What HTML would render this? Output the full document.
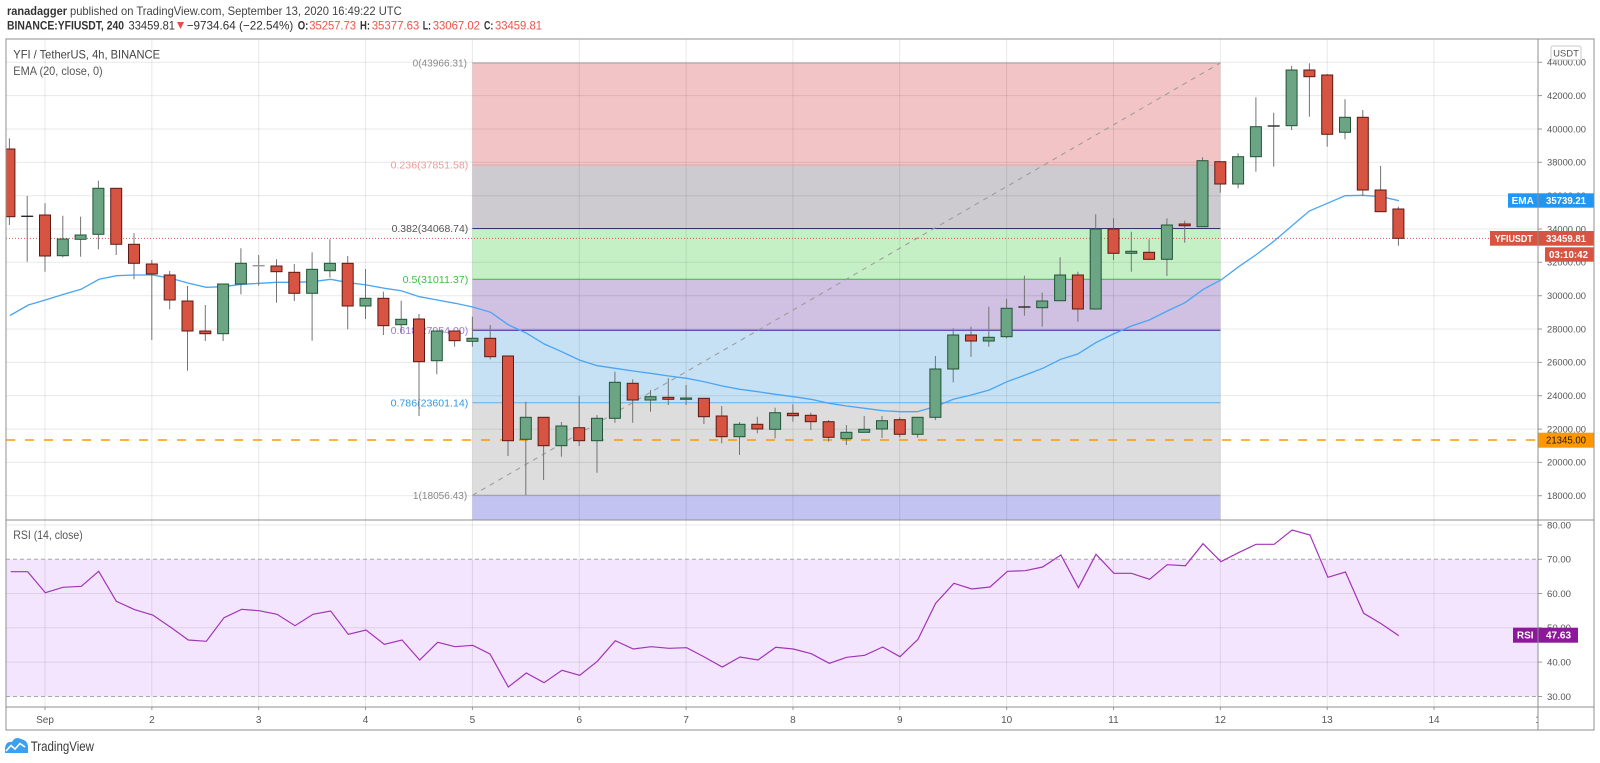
<!DOCTYPE html>
<html><head><meta charset="utf-8"><style>
html,body{margin:0;padding:0;background:#fff;}
svg{display:block;font-family:"Liberation Sans",sans-serif;}
</style></head><body>
<svg width="1600" height="763" viewBox="0 0 1600 763" xmlns="http://www.w3.org/2000/svg">
<defs>
<clipPath id="cm"><rect x="6" y="39" width="1532" height="481"/></clipPath>
<clipPath id="cr"><rect x="6" y="520" width="1532" height="187"/></clipPath>
<clipPath id="ct"><rect x="6" y="707" width="1532" height="23"/></clipPath>
</defs>
<rect width="1600" height="763" fill="#fff"/>

<!-- header -->
<g font-size="12" fill="#333">
<text x="7" y="15" font-weight="bold" textLength="60" lengthAdjust="spacingAndGlyphs">ranadagger</text>
<text x="70" y="15" fill="#444" textLength="331.7" lengthAdjust="spacingAndGlyphs">published on TradingView.com, September 13, 2020 16:49:22 UTC</text>
<text x="7" y="29.5" font-weight="bold" textLength="117" lengthAdjust="spacingAndGlyphs">BINANCE:YFIUSDT, 240</text>
<text x="128.5" y="29.5" textLength="46.5" lengthAdjust="spacingAndGlyphs">33459.81</text>
<polygon points="177,22 184,22 180.5,29" fill="#ef4b43"/>
<text x="186.7" y="29.5" textLength="106.6" lengthAdjust="spacingAndGlyphs">−9734.64 (−22.54%)</text>
<text x="297.7" y="29.5" font-weight="bold" textLength="10.6" lengthAdjust="spacingAndGlyphs">O:</text>
<text x="309.3" y="29.5" fill="#f0524a" textLength="46.7" lengthAdjust="spacingAndGlyphs">35257.73</text>
<text x="360" y="29.5" font-weight="bold" textLength="10" lengthAdjust="spacingAndGlyphs">H:</text>
<text x="371.7" y="29.5" fill="#f0524a" textLength="47.6" lengthAdjust="spacingAndGlyphs">35377.63</text>
<text x="422.7" y="29.5" font-weight="bold" textLength="8.3" lengthAdjust="spacingAndGlyphs">L:</text>
<text x="432.7" y="29.5" fill="#f0524a" textLength="47.3" lengthAdjust="spacingAndGlyphs">33067.02</text>
<text x="484" y="29.5" font-weight="bold" textLength="9.3" lengthAdjust="spacingAndGlyphs">C:</text>
<text x="495" y="29.5" fill="#f0524a" textLength="47" lengthAdjust="spacingAndGlyphs">33459.81</text>
</g>

<!-- MAIN PANE -->
<g clip-path="url(#cm)">
<rect x="472.4" y="63" width="748" height="102" fill="#f3c4c5"/>
<rect x="472.4" y="165" width="748" height="63.5" fill="#cdcbd0"/>
<rect x="472.4" y="228.5" width="748" height="50.7" fill="#c5f0c5"/>
<rect x="472.4" y="279.2" width="748" height="51.1" fill="#d0c0e1"/>
<rect x="472.4" y="330.3" width="748" height="72.4" fill="#c5e1f3"/>
<rect x="472.4" y="402.7" width="748" height="92.6" fill="#dddddd"/>
<rect x="472.4" y="495.3" width="748" height="30" fill="#c3c3f2"/>
<g stroke="#000" stroke-opacity="0.09" stroke-width="1">
<line x1="6" y1="62.3" x2="1538" y2="62.3"/><line x1="6" y1="95.6" x2="1538" y2="95.6"/>
<line x1="6" y1="129" x2="1538" y2="129"/><line x1="6" y1="162.3" x2="1538" y2="162.3"/>
<line x1="6" y1="195.7" x2="1538" y2="195.7"/><line x1="6" y1="229" x2="1538" y2="229"/>
<line x1="6" y1="262.3" x2="1538" y2="262.3"/><line x1="6" y1="295.7" x2="1538" y2="295.7"/>
<line x1="6" y1="329" x2="1538" y2="329"/><line x1="6" y1="362.4" x2="1538" y2="362.4"/>
<line x1="6" y1="395.7" x2="1538" y2="395.7"/><line x1="6" y1="429.1" x2="1538" y2="429.1"/>
<line x1="6" y1="462.4" x2="1538" y2="462.4"/><line x1="6" y1="495.7" x2="1538" y2="495.7"/>
<line x1="45" y1="39" x2="45" y2="520"/><line x1="151.85" y1="39" x2="151.85" y2="520"/>
<line x1="258.7" y1="39" x2="258.7" y2="520"/><line x1="365.55" y1="39" x2="365.55" y2="520"/>
<line x1="472.4" y1="39" x2="472.4" y2="520"/><line x1="579.25" y1="39" x2="579.25" y2="520"/>
<line x1="686.1" y1="39" x2="686.1" y2="520"/><line x1="792.95" y1="39" x2="792.95" y2="520"/>
<line x1="899.8" y1="39" x2="899.8" y2="520"/><line x1="1006.65" y1="39" x2="1006.65" y2="520"/>
<line x1="1113.5" y1="39" x2="1113.5" y2="520"/><line x1="1220.35" y1="39" x2="1220.35" y2="520"/>
<line x1="1327.2" y1="39" x2="1327.2" y2="520"/><line x1="1434.05" y1="39" x2="1434.05" y2="520"/>
</g>
<line x1="472.4" y1="63" x2="1220.4" y2="63" stroke="#a0a0a0"/>
<line x1="472.4" y1="165" x2="1220.4" y2="165" stroke="#e7a3a6"/>
<line x1="472.4" y1="228.5" x2="1220.4" y2="228.5" stroke="#3c2f6e"/>
<line x1="472.4" y1="279.2" x2="1220.4" y2="279.2" stroke="#3cb83c"/>
<line x1="472.4" y1="330.3" x2="1220.4" y2="330.3" stroke="#4b1a9b"/>
<line x1="472.4" y1="402.7" x2="1220.4" y2="402.7" stroke="#5fb0f0"/>
<line x1="472.4" y1="495.3" x2="1220.4" y2="495.3" stroke="#a0a0a0"/>
<g font-size="10.5" text-anchor="end">
<text x="467" y="66.7" fill="#8a8a8a" textLength="54.4" lengthAdjust="spacingAndGlyphs">0(43966.31)</text>
<text x="468.3" y="168.7" fill="#f09a9a" textLength="77.7" lengthAdjust="spacingAndGlyphs">0.236(37851.58)</text>
<text x="468.3" y="232.2" fill="#555" textLength="76.7" lengthAdjust="spacingAndGlyphs">0.382(34068.74)</text>
<text x="468.3" y="282.9" fill="#3fc03f" textLength="65.7" lengthAdjust="spacingAndGlyphs">0.5(31011.37)</text>
<text x="468.3" y="334" fill="#9a7fd0" textLength="77.7" lengthAdjust="spacingAndGlyphs">0.618(27954.00)</text>
<text x="468.3" y="406.4" fill="#3399e0" textLength="77.7" lengthAdjust="spacingAndGlyphs">0.786(23601.14)</text>
<text x="467.3" y="499" fill="#888" textLength="54.4" lengthAdjust="spacingAndGlyphs">1(18056.43)</text>
</g>
<line x1="472.4" y1="495.3" x2="1220.4" y2="63" stroke="#999" stroke-dasharray="5 5"/>
<line x1="6" y1="440" x2="1538" y2="440" stroke="#ff9800" stroke-width="1.6" stroke-dasharray="9 10"/>
<line x1="6" y1="238.4" x2="1538" y2="238.4" stroke="#e0574a" stroke-dasharray="1 2"/>
<polyline fill="none" stroke="#4aa5f5" stroke-width="1.3" points="10,315.5 28.3,305 45.3,300 63,294.5 81,289.3 99,279.3 116.7,275.7 134.7,275 152.7,275 170.7,278.3 188.7,283.3 206.3,287.3 223.3,286.7 241.3,284.3 259.3,283.3 277,282.3 294.7,282.3 312.7,281.7 330.7,279.3 348.7,282.7 366.7,285 384.7,288.3 401.3,290.7 419.3,296.7 437.3,300 455.3,303.3 472.7,307 490.7,312.3 508.7,325 526.7,333.3 544.3,344 561.7,351.7 579.3,360 597.3,365.7 615,368.3 633.3,371 650.7,373.3 668.7,376 686.7,378.3 704.3,381.7 722.3,386 740,389.3 757.7,391.7 775.3,394.3 793.3,396.7 811,399.3 829,403.3 846.7,406 864.7,408.3 882.7,410.7 900,411.7 917.3,411.7 935.5,406.5 953.3,399.3 971.3,395 989.3,390 1007,381.7 1025.3,375 1042.7,368.3 1060.7,359.3 1077.7,354 1095.7,342.7 1113.3,334 1131.3,326 1149.3,320 1167.3,311 1185,302.7 1203.3,289.3 1221,280 1238.7,266.7 1255.7,255 1273.3,241.7 1291.7,226 1309.3,211 1327.3,203.3 1345.3,195.7 1363.3,195.3 1381,196.7 1399,200.7"/>
<g stroke="#737375" stroke-width="1">
<line x1="9.4" y1="138.3" x2="9.4" y2="225"/>
<line x1="27.2" y1="196" x2="27.2" y2="261.7"/>
<line x1="45" y1="203.3" x2="45" y2="271.7"/>
<line x1="62.8" y1="215.7" x2="62.8" y2="257.3"/>
<line x1="80.6" y1="216.7" x2="80.6" y2="256.7"/>
<line x1="98.4" y1="180.7" x2="98.4" y2="249.3"/>
<line x1="116.2" y1="188" x2="116.2" y2="255"/>
<line x1="134" y1="233.3" x2="134" y2="279.3"/>
<line x1="151.8" y1="260" x2="151.8" y2="340"/>
<line x1="169.7" y1="271" x2="169.7" y2="309.3"/>
<line x1="187.5" y1="286" x2="187.5" y2="370.7"/>
<line x1="205.3" y1="305" x2="205.3" y2="341"/>
<line x1="223.1" y1="284" x2="223.1" y2="341"/>
<line x1="240.9" y1="248.3" x2="240.9" y2="294.3"/>
<line x1="258.7" y1="255" x2="258.7" y2="285.7"/>
<line x1="276.5" y1="259.3" x2="276.5" y2="302.7"/>
<line x1="294.3" y1="264" x2="294.3" y2="301"/>
<line x1="312.1" y1="252.3" x2="312.1" y2="340.7"/>
<line x1="329.9" y1="239.3" x2="329.9" y2="277.7"/>
<line x1="347.7" y1="256" x2="347.7" y2="329.3"/>
<line x1="365.5" y1="269" x2="365.5" y2="319"/>
<line x1="383.4" y1="291.7" x2="383.4" y2="335"/>
<line x1="401.2" y1="300.7" x2="401.2" y2="333.3"/>
<line x1="419" y1="314" x2="419" y2="416"/>
<line x1="436.8" y1="331" x2="436.8" y2="374.3"/>
<line x1="454.6" y1="331" x2="454.6" y2="346.7"/>
<line x1="472.4" y1="316.7" x2="472.4" y2="346.7"/>
<line x1="490.2" y1="325" x2="490.2" y2="359.3"/>
<line x1="508" y1="356" x2="508" y2="456"/>
<line x1="525.8" y1="401.7" x2="525.8" y2="495"/>
<line x1="543.6" y1="417" x2="543.6" y2="480"/>
<line x1="561.4" y1="422" x2="561.4" y2="456.7"/>
<line x1="579.2" y1="396" x2="579.2" y2="446"/>
<line x1="597" y1="415" x2="597" y2="472.7"/>
<line x1="614.9" y1="371.7" x2="614.9" y2="422.7"/>
<line x1="632.7" y1="379.3" x2="632.7" y2="422.7"/>
<line x1="650.5" y1="390" x2="650.5" y2="411.7"/>
<line x1="668.3" y1="378.3" x2="668.3" y2="405"/>
<line x1="686.1" y1="385" x2="686.1" y2="405"/>
<line x1="703.9" y1="398" x2="703.9" y2="424"/>
<line x1="721.7" y1="406" x2="721.7" y2="443.3"/>
<line x1="739.5" y1="422" x2="739.5" y2="455"/>
<line x1="757.3" y1="416.7" x2="757.3" y2="433.3"/>
<line x1="775.1" y1="407.7" x2="775.1" y2="438.3"/>
<line x1="792.9" y1="404.3" x2="792.9" y2="421.7"/>
<line x1="810.8" y1="412.7" x2="810.8" y2="430"/>
<line x1="828.6" y1="420" x2="828.6" y2="441.7"/>
<line x1="846.4" y1="425" x2="846.4" y2="445"/>
<line x1="864.2" y1="416" x2="864.2" y2="432.3"/>
<line x1="882" y1="416" x2="882" y2="438"/>
<line x1="899.8" y1="417.3" x2="899.8" y2="437.3"/>
<line x1="917.6" y1="417.3" x2="917.6" y2="437.7"/>
<line x1="935.4" y1="356" x2="935.4" y2="420"/>
<line x1="953.2" y1="328.3" x2="953.2" y2="382.3"/>
<line x1="971" y1="326.7" x2="971" y2="356.7"/>
<line x1="988.8" y1="306.7" x2="988.8" y2="346.7"/>
<line x1="1006.6" y1="299" x2="1006.6" y2="338.3"/>
<line x1="1024.4" y1="275.7" x2="1024.4" y2="315.7"/>
<line x1="1042.2" y1="292.7" x2="1042.2" y2="326.7"/>
<line x1="1060.1" y1="257.3" x2="1060.1" y2="300.7"/>
<line x1="1077.9" y1="271.7" x2="1077.9" y2="321.7"/>
<line x1="1095.7" y1="214.3" x2="1095.7" y2="309"/>
<line x1="1113.5" y1="218.3" x2="1113.5" y2="260"/>
<line x1="1131.3" y1="231.7" x2="1131.3" y2="271.7"/>
<line x1="1149.1" y1="239.3" x2="1149.1" y2="260"/>
<line x1="1166.9" y1="218.3" x2="1166.9" y2="276"/>
<line x1="1184.7" y1="220.7" x2="1184.7" y2="242.7"/>
<line x1="1202.5" y1="157.3" x2="1202.5" y2="226.7"/>
<line x1="1220.3" y1="161.7" x2="1220.3" y2="192.7"/>
<line x1="1238.1" y1="153.3" x2="1238.1" y2="188.3"/>
<line x1="1255.9" y1="97.3" x2="1255.9" y2="171.7"/>
<line x1="1273.7" y1="112.7" x2="1273.7" y2="166.7"/>
<line x1="1291.6" y1="66" x2="1291.6" y2="130"/>
<line x1="1309.4" y1="63.3" x2="1309.4" y2="116.7"/>
<line x1="1327.2" y1="74" x2="1327.2" y2="146.7"/>
<line x1="1345" y1="99.3" x2="1345" y2="139.3"/>
<line x1="1362.8" y1="110" x2="1362.8" y2="196"/>
<line x1="1380.6" y1="166" x2="1380.6" y2="211.7"/>
<line x1="1398.4" y1="206.7" x2="1398.4" y2="245.7"/>
</g>
<g fill="#d75442" stroke="#5b1a13" stroke-width="1">
<rect x="3.9" y="149" width="11" height="67.7"/>
<rect x="39.5" y="215" width="11" height="41"/>
<rect x="110.7" y="188.3" width="11" height="56"/>
<rect x="128.5" y="244.3" width="11" height="19"/>
<rect x="146.3" y="264" width="11" height="10"/>
<rect x="164.2" y="275" width="11" height="25"/>
<rect x="182" y="301" width="11" height="30"/>
<rect x="199.8" y="331" width="11" height="2.7"/>
<rect x="271" y="266" width="11" height="5.7"/>
<rect x="288.8" y="272.3" width="11" height="21"/>
<rect x="342.2" y="263.3" width="11" height="42.7"/>
<rect x="377.9" y="298.3" width="11" height="27.4"/>
<rect x="413.5" y="319" width="11" height="42.7"/>
<rect x="449.1" y="331" width="11" height="9.7"/>
<rect x="484.7" y="338.3" width="11" height="18.4"/>
<rect x="502.5" y="356" width="11" height="84.7"/>
<rect x="538.1" y="417.3" width="11" height="28.4"/>
<rect x="573.7" y="427.7" width="11" height="13"/>
<rect x="627.2" y="383.3" width="11" height="16.7"/>
<rect x="662.8" y="397.3" width="11" height="2"/>
<rect x="698.4" y="398.3" width="11" height="18.4"/>
<rect x="716.2" y="416" width="11" height="20.7"/>
<rect x="751.8" y="424.3" width="11" height="4.7"/>
<rect x="787.4" y="413.3" width="11" height="2.4"/>
<rect x="805.3" y="415.3" width="11" height="6.4"/>
<rect x="823.1" y="421.7" width="11" height="15.6"/>
<rect x="894.3" y="419.7" width="11" height="14.6"/>
<rect x="965.5" y="335" width="11" height="6"/>
<rect x="1072.4" y="275" width="11" height="34"/>
<rect x="1108" y="229" width="11" height="24.3"/>
<rect x="1143.6" y="252.3" width="11" height="7"/>
<rect x="1179.2" y="224" width="11" height="1.7"/>
<rect x="1214.8" y="161.7" width="11" height="22.3"/>
<rect x="1303.9" y="70" width="11" height="6.7"/>
<rect x="1321.7" y="75" width="11" height="59.3"/>
<rect x="1357.3" y="117.3" width="11" height="72.7"/>
<rect x="1375.1" y="190" width="11" height="21.7"/>
<rect x="1392.9" y="209" width="11" height="29.3"/>
</g>
<g fill="#6ba583" stroke="#225437" stroke-width="1">
<rect x="57.3" y="239" width="11" height="16.7"/>
<rect x="75.1" y="235" width="11" height="4.3"/>
<rect x="92.9" y="188.3" width="11" height="46"/>
<rect x="217.6" y="284" width="11" height="49.7"/>
<rect x="235.4" y="263.3" width="11" height="20.7"/>
<rect x="306.6" y="269.3" width="11" height="24"/>
<rect x="324.4" y="263.3" width="11" height="7.4"/>
<rect x="360" y="298.3" width="11" height="7.7"/>
<rect x="395.7" y="319.3" width="11" height="5.4"/>
<rect x="431.3" y="331" width="11" height="29.7"/>
<rect x="466.9" y="338.3" width="11" height="3"/>
<rect x="520.3" y="417.3" width="11" height="22"/>
<rect x="555.9" y="426" width="11" height="19.7"/>
<rect x="591.5" y="418.3" width="11" height="22.4"/>
<rect x="609.4" y="382.3" width="11" height="36"/>
<rect x="645" y="396.7" width="11" height="3.3"/>
<rect x="680.6" y="398" width="11" height="1.3"/>
<rect x="734" y="424.3" width="11" height="12.4"/>
<rect x="769.6" y="412.7" width="11" height="16.6"/>
<rect x="840.9" y="432.3" width="11" height="6.4"/>
<rect x="858.7" y="429.3" width="11" height="3"/>
<rect x="876.5" y="420.7" width="11" height="8.3"/>
<rect x="912.1" y="417.3" width="11" height="17"/>
<rect x="929.9" y="369" width="11" height="48.3"/>
<rect x="947.7" y="335" width="11" height="34"/>
<rect x="983.3" y="337.3" width="11" height="3.7"/>
<rect x="1001.1" y="308.3" width="11" height="28.4"/>
<rect x="1036.7" y="301" width="11" height="6.7"/>
<rect x="1054.6" y="275" width="11" height="25.7"/>
<rect x="1090.2" y="229" width="11" height="80"/>
<rect x="1125.8" y="251.3" width="11" height="2"/>
<rect x="1161.4" y="225" width="11" height="34.3"/>
<rect x="1197" y="160.7" width="11" height="66"/>
<rect x="1232.6" y="156.7" width="11" height="27.3"/>
<rect x="1250.4" y="126.7" width="11" height="30"/>
<rect x="1286.1" y="70" width="11" height="55.7"/>
<rect x="1339.5" y="117.3" width="11" height="15"/>
</g>
<g stroke="#2a2a2a" stroke-width="1.4">
<line x1="21.2" y1="216.3" x2="33.2" y2="216.3"/>
<line x1="252.7" y1="265.7" x2="264.7" y2="265.7" stroke="#999"/>
<line x1="1018.4" y1="307" x2="1030.4" y2="307"/>
<line x1="1267.7" y1="126" x2="1279.7" y2="126"/>
</g>
<text x="13.3" y="58.5" font-size="12" fill="#444" textLength="146.7" lengthAdjust="spacingAndGlyphs">YFI / TetherUS, 4h, BINANCE</text>
<text x="13.3" y="75" font-size="12" fill="#555" textLength="89.4" lengthAdjust="spacingAndGlyphs">EMA (20, close, 0)</text>
</g>

<!-- RSI PANE -->
<g clip-path="url(#cr)">
<rect x="6" y="559.3" width="1532" height="137.2" fill="#f3e5fd"/>
<g stroke="#000" stroke-opacity="0.09">
<line x1="6" y1="525" x2="1538" y2="525"/>
<line x1="6" y1="593.5" x2="1538" y2="593.5"/>
<line x1="6" y1="627.8" x2="1538" y2="627.8"/>
<line x1="6" y1="662.1" x2="1538" y2="662.1"/>
<line x1="45" y1="520" x2="45" y2="707"/><line x1="151.85" y1="520" x2="151.85" y2="707"/>
<line x1="258.7" y1="520" x2="258.7" y2="707"/><line x1="365.55" y1="520" x2="365.55" y2="707"/>
<line x1="472.4" y1="520" x2="472.4" y2="707"/><line x1="579.25" y1="520" x2="579.25" y2="707"/>
<line x1="686.1" y1="520" x2="686.1" y2="707"/><line x1="792.95" y1="520" x2="792.95" y2="707"/>
<line x1="899.8" y1="520" x2="899.8" y2="707"/><line x1="1006.65" y1="520" x2="1006.65" y2="707"/>
<line x1="1113.5" y1="520" x2="1113.5" y2="707"/><line x1="1220.35" y1="520" x2="1220.35" y2="707"/>
<line x1="1327.2" y1="520" x2="1327.2" y2="707"/><line x1="1434.05" y1="520" x2="1434.05" y2="707"/>
</g>
<line x1="6" y1="559.3" x2="1538" y2="559.3" stroke="#a8a8a8" stroke-dasharray="4 3"/>
<line x1="6" y1="696.5" x2="1538" y2="696.5" stroke="#a8a8a8" stroke-dasharray="4 3"/>
<polyline fill="none" stroke="#a234b8" stroke-width="1.2" points="10.7,571.7 27.7,571.7 45.3,592.7 63,587.3 81.3,586.3 98.7,571.3 116.3,601.3 134.7,609.7 152.7,615 170.3,627 188.3,640 206.3,641.3 224,617.7 241.7,609.3 259,610.7 277,614.3 295,625.7 313,614.3 330.7,611 348.3,634.3 366,630 384.3,644.3 402,640 419.7,660 437.7,642.3 455,646.7 472.7,645.3 490,654 508.3,687 526.3,673 544,682.7 562,670.3 579.7,675.3 597.3,661.3 615.3,640.7 633.3,649 651.3,646.7 669,648.3 686.7,647.7 704.3,657 722.3,667 740,657 758,660 775.7,647.3 793.3,649 811.3,653.7 829.3,663.3 846.7,657.3 864.7,655.3 882.7,647 900,656.7 918,639.3 935.6,603.3 953.9,583.3 971.8,589 990,587 1007.5,571.3 1025.1,570.7 1042.6,567 1060.9,555 1078.4,587.7 1096,554.3 1113.9,573.3 1131.4,573.3 1149.6,579.3 1167.2,564.7 1185.4,565.7 1203,543.7 1220.9,561.7 1238.4,552.7 1256,544.3 1274.2,544.3 1292.1,530 1310,535 1327.9,577.3 1345.4,572 1363.7,613.3 1381.2,623.7 1398.8,635.7"/>
<text x="13.3" y="539" font-size="12" fill="#555" textLength="69.4" lengthAdjust="spacingAndGlyphs">RSI (14, close)</text>
</g>

<!-- time axis -->
<g stroke="#999">
<line x1="45" y1="707" x2="45" y2="710"/><line x1="151.85" y1="707" x2="151.85" y2="710"/>
<line x1="258.7" y1="707" x2="258.7" y2="710"/><line x1="365.55" y1="707" x2="365.55" y2="710"/>
<line x1="472.4" y1="707" x2="472.4" y2="710"/><line x1="579.25" y1="707" x2="579.25" y2="710"/>
<line x1="686.1" y1="707" x2="686.1" y2="710"/><line x1="792.95" y1="707" x2="792.95" y2="710"/>
<line x1="899.8" y1="707" x2="899.8" y2="710"/><line x1="1006.65" y1="707" x2="1006.65" y2="710"/>
<line x1="1113.5" y1="707" x2="1113.5" y2="710"/><line x1="1220.35" y1="707" x2="1220.35" y2="710"/>
<line x1="1327.2" y1="707" x2="1327.2" y2="710"/><line x1="1434.05" y1="707" x2="1434.05" y2="710"/>
</g>
<g clip-path="url(#ct)" font-size="10" fill="#555" text-anchor="middle">
<text x="45" y="723">Sep</text><text x="151.85" y="723">2</text><text x="258.7" y="723">3</text>
<text x="365.55" y="723">4</text><text x="472.4" y="723">5</text><text x="579.25" y="723">6</text>
<text x="686.1" y="723">7</text><text x="792.95" y="723">8</text><text x="899.8" y="723">9</text>
<text x="1006.65" y="723">10</text><text x="1113.5" y="723">11</text><text x="1220.35" y="723">12</text>
<text x="1327.2" y="723">13</text><text x="1434.05" y="723">14</text><text x="1540.9" y="723">15</text>
</g>

<!-- price axis ticks -->
<g stroke="#999">
<line x1="1538" y1="62.3" x2="1542" y2="62.3"/><line x1="1538" y1="95.6" x2="1542" y2="95.6"/>
<line x1="1538" y1="129" x2="1542" y2="129"/><line x1="1538" y1="162.3" x2="1542" y2="162.3"/>
<line x1="1538" y1="195.7" x2="1542" y2="195.7"/><line x1="1538" y1="229" x2="1542" y2="229"/>
<line x1="1538" y1="262.3" x2="1542" y2="262.3"/><line x1="1538" y1="295.7" x2="1542" y2="295.7"/>
<line x1="1538" y1="329" x2="1542" y2="329"/><line x1="1538" y1="362.4" x2="1542" y2="362.4"/>
<line x1="1538" y1="395.7" x2="1542" y2="395.7"/><line x1="1538" y1="429.1" x2="1542" y2="429.1"/>
<line x1="1538" y1="462.4" x2="1542" y2="462.4"/><line x1="1538" y1="495.7" x2="1542" y2="495.7"/>
<line x1="1538" y1="525" x2="1542" y2="525"/><line x1="1538" y1="559.3" x2="1542" y2="559.3"/>
<line x1="1538" y1="593.5" x2="1542" y2="593.5"/><line x1="1538" y1="627.8" x2="1542" y2="627.8"/>
<line x1="1538" y1="662.1" x2="1542" y2="662.1"/><line x1="1538" y1="696.5" x2="1542" y2="696.5"/>
</g>
<g font-size="9.5" fill="#555">
<text x="1547" y="65.6" textLength="39" lengthAdjust="spacingAndGlyphs">44000.00</text>
<text x="1547" y="98.9" textLength="39" lengthAdjust="spacingAndGlyphs">42000.00</text>
<text x="1547" y="132.3" textLength="39" lengthAdjust="spacingAndGlyphs">40000.00</text>
<text x="1547" y="165.6" textLength="39" lengthAdjust="spacingAndGlyphs">38000.00</text>
<text x="1547" y="199" textLength="39" lengthAdjust="spacingAndGlyphs">36000.00</text>
<text x="1547" y="232.3" textLength="39" lengthAdjust="spacingAndGlyphs">34000.00</text>
<text x="1547" y="265.6" textLength="39" lengthAdjust="spacingAndGlyphs">32000.00</text>
<text x="1547" y="299" textLength="39" lengthAdjust="spacingAndGlyphs">30000.00</text>
<text x="1547" y="332.3" textLength="39" lengthAdjust="spacingAndGlyphs">28000.00</text>
<text x="1547" y="365.7" textLength="39" lengthAdjust="spacingAndGlyphs">26000.00</text>
<text x="1547" y="399" textLength="39" lengthAdjust="spacingAndGlyphs">24000.00</text>
<text x="1547" y="432.4" textLength="39" lengthAdjust="spacingAndGlyphs">22000.00</text>
<text x="1547" y="465.7" textLength="39" lengthAdjust="spacingAndGlyphs">20000.00</text>
<text x="1547" y="499" textLength="39" lengthAdjust="spacingAndGlyphs">18000.00</text>
<text x="1547" y="528.3" textLength="24" lengthAdjust="spacingAndGlyphs">80.00</text>
<text x="1547" y="562.6" textLength="24" lengthAdjust="spacingAndGlyphs">70.00</text>
<text x="1547" y="596.8" textLength="24" lengthAdjust="spacingAndGlyphs">60.00</text>
<text x="1547" y="631.1" textLength="24" lengthAdjust="spacingAndGlyphs">50.00</text>
<text x="1547" y="665.4" textLength="24" lengthAdjust="spacingAndGlyphs">40.00</text>
<text x="1547" y="699.8" textLength="24" lengthAdjust="spacingAndGlyphs">30.00</text>
</g>

<rect x="1551" y="46" width="30" height="14" rx="2" fill="#fff" stroke="#c8c8c8"/>
<text x="1566" y="56.5" font-size="9.5" fill="#555" text-anchor="middle">USDT</text>

<g font-size="10" font-weight="bold" fill="#fff">
<rect x="1508" y="193.3" width="29.5" height="14.4" fill="#2196f3"/>
<rect x="1538.5" y="193.3" width="55.5" height="14.4" fill="#2196f3"/>
<text x="1522.7" y="204" text-anchor="middle">EMA</text>
<text x="1546" y="204" textLength="40" lengthAdjust="spacingAndGlyphs">35739.21</text>

<rect x="1490" y="231" width="47.5" height="14.7" fill="#d75442"/>
<rect x="1538.5" y="231" width="55.5" height="14.7" fill="#d75442"/>
<text x="1513.7" y="241.8" text-anchor="middle" textLength="38" lengthAdjust="spacingAndGlyphs">YFIUSDT</text>
<text x="1546" y="241.8" textLength="40" lengthAdjust="spacingAndGlyphs">33459.81</text>
<rect x="1545" y="247.3" width="49" height="14.4" fill="#d75442"/>
<text x="1549" y="258" textLength="39" lengthAdjust="spacingAndGlyphs">03:10:42</text>

<rect x="1538.5" y="432.7" width="55.5" height="15" fill="#ff9800"/>
<text x="1546" y="443.6" fill="#1a1a1a" font-weight="normal" textLength="40" lengthAdjust="spacingAndGlyphs">21345.00</text>

<rect x="1513" y="627.7" width="24.5" height="15" fill="#8e179c"/>
<rect x="1538.5" y="627.7" width="39.5" height="15" fill="#8e179c"/>
<text x="1525.2" y="638.6" text-anchor="middle">RSI</text>
<text x="1546" y="638.6" textLength="25" lengthAdjust="spacingAndGlyphs">47.63</text>
</g>

<rect x="6" y="39" width="1588" height="691" fill="none" stroke="#8f8f8f"/>
<line x1="1538" y1="39" x2="1538" y2="730" stroke="#8f8f8f"/>
<line x1="6" y1="520" x2="1594" y2="520" stroke="#8f8f8f"/>
<line x1="6" y1="707" x2="1594" y2="707" stroke="#8f8f8f"/>

<path d="M5,753 L5,748 Q6,741 12,742 Q15,736 21,739 Q27,740 28,746 L28,753 Z" fill="#3ba0ee"/>
<polyline points="6,751 11,745.5 15,749 20,743.5 25,747" fill="none" stroke="#fff" stroke-width="1.6"/>
<text x="30.7" y="751" font-size="13.5" fill="#3a3a3a" textLength="63.3" lengthAdjust="spacingAndGlyphs">TradingView</text>
</svg>
</body></html>
